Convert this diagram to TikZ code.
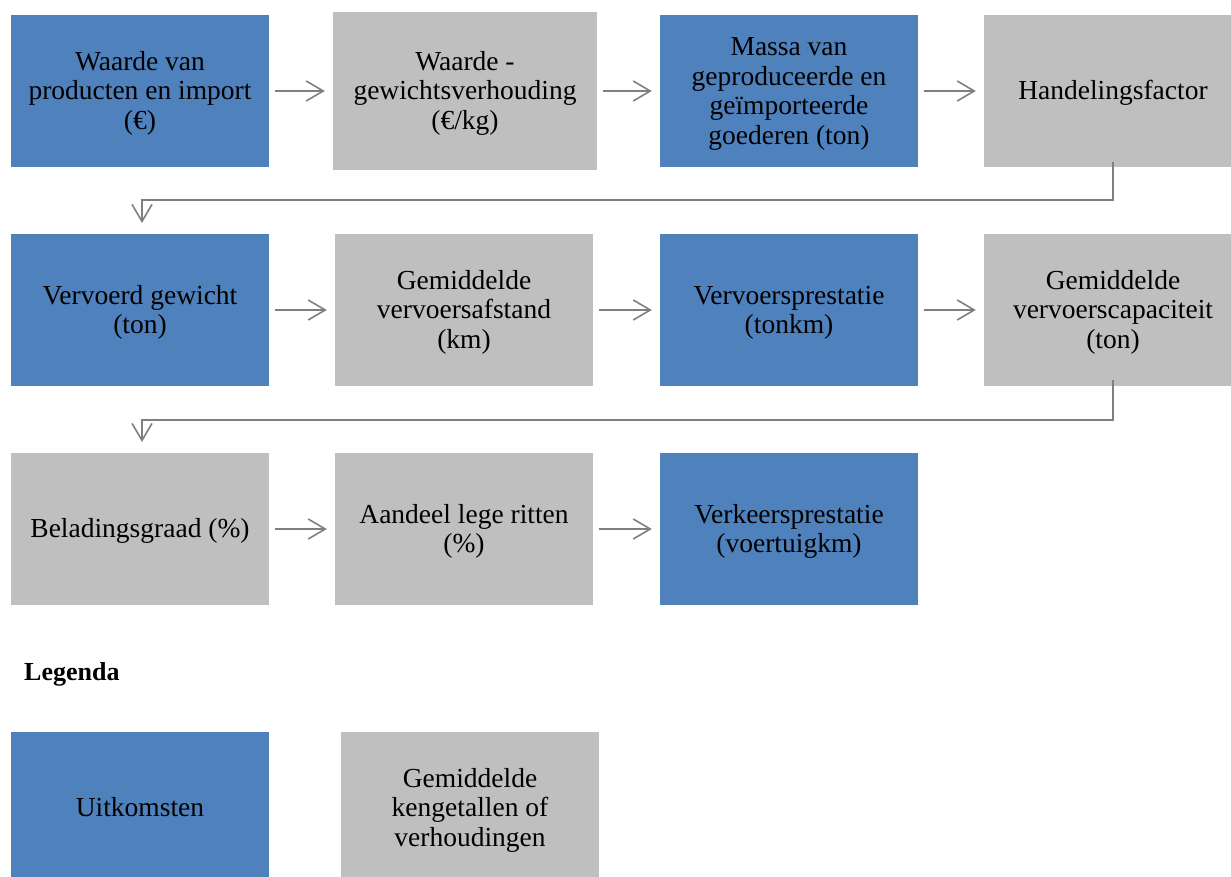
\documentclass[tikz,border=0pt]{standalone}
\usepackage{fontspec}
\setmainfont{Liberation Serif}
\usetikzlibrary{arrows.meta}
\definecolor{uitblue}{HTML}{4F81BD}
\definecolor{kengray}{HTML}{BFBFBF}
\definecolor{linegray}{HTML}{7F7F7F}
\newcommand{\boxtext}[1]{\raisebox{0pt}[\dimexpr\height+6pt\relax]{\begin{tabular}{@{}c@{}}#1\end{tabular}}}
\tikzset{
  box/.style={rectangle, inner sep=0pt, align=center, minimum width=258pt, minimum height=152pt, font=\fontsize{27.5}{29.5}\selectfont},
  bluebox/.style={box, fill=uitblue},
  graybox/.style={box, fill=kengray},
  arr/.style={draw=linegray, line width=1.6pt, -{Straight Barb[length=17pt,width=20pt,line width=1.6pt]}},
}
\begin{document}
\begin{tikzpicture}[x=1pt,y=-1pt]
\useasboundingbox (0,0) rectangle (1231,877);
\clip (0,0) rectangle (1231,877);
% row 1
\node[bluebox] (b1) at (140,91) {\boxtext{Waarde van\\producten en import\\(€)}};
\node[graybox, minimum width=264pt, minimum height=158pt] (b2) at (465,91) {\boxtext{Waarde -\\gewichtsverhouding\\(€/kg)}};
\node[bluebox] (b3) at (789,91) {\boxtext{Massa van\\geproduceerde en\\geïmporteerde\\goederen (ton)}};
\node[graybox] (b4) at (1113,91) {\boxtext{Handelingsfactor}};
% row 2
\node[bluebox] (b5) at (140,310) {\boxtext{Vervoerd gewicht\\(ton)}};
\node[graybox] (b6) at (464,310) {\boxtext{Gemiddelde\\vervoersafstand\\(km)}};
\node[bluebox] (b7) at (789,310) {\boxtext{Vervoersprestatie\\(tonkm)}};
\node[graybox] (b8) at (1113,310) {\boxtext{Gemiddelde\\vervoerscapaciteit\\(ton)}};
% row 3
\node[graybox] (b9) at (140,529) {\boxtext{Beladingsgraad (\%)}};
\node[graybox] (b10) at (464,529) {\boxtext{Aandeel lege ritten\\(\%)}};
\node[bluebox] (b11) at (789,529) {\boxtext{Verkeersprestatie\\(voertuigkm)}};
% legend
\node[anchor=west, font=\fontsize{26}{28}\selectfont\bfseries, inner sep=0pt] (leg) at (24,674) {Legenda};
\node[bluebox] (l1) at (140,808) {\boxtext{Uitkomsten}};
\node[graybox] (l2) at (470,808) {\boxtext{Gemiddelde\\kengetallen of\\verhoudingen}};
% horizontal arrows
\draw[arr] ([xshift=6pt]b1.east) -- ([xshift=-8pt]b2.west);
\draw[arr] ([xshift=6pt]b2.east) -- ([xshift=-8pt]b3.west);
\draw[arr] ([xshift=6pt]b3.east) -- ([xshift=-8pt]b4.west);
\draw[arr] ([xshift=6pt]b5.east) -- ([xshift=-8pt]b6.west);
\draw[arr] ([xshift=6pt]b6.east) -- ([xshift=-8pt]b7.west);
\draw[arr] ([xshift=6pt]b7.east) -- ([xshift=-8pt]b8.west);
\draw[arr] ([xshift=6pt]b9.east) -- ([xshift=-8pt]b10.west);
\draw[arr] ([xshift=6pt]b10.east) -- ([xshift=-8pt]b11.west);
% elbow connectors
\coordinate (e1a) at ([yshift=5pt]b4.south);
\coordinate (e1b) at (1113,200);
\coordinate (e1c) at (142,200);
\coordinate (e1d) at (142,223);
\draw[arr] (e1a) -- (e1b) -- (e1c) -- (e1d);
\coordinate (e2a) at ([yshift=6pt]b8.south);
\coordinate (e2b) at (1113,420);
\coordinate (e2c) at (142,420);
\coordinate (e2d) at (142,442);
\draw[arr] (e2a) -- (e2b) -- (e2c) -- (e2d);
\end{tikzpicture}
\end{document}
